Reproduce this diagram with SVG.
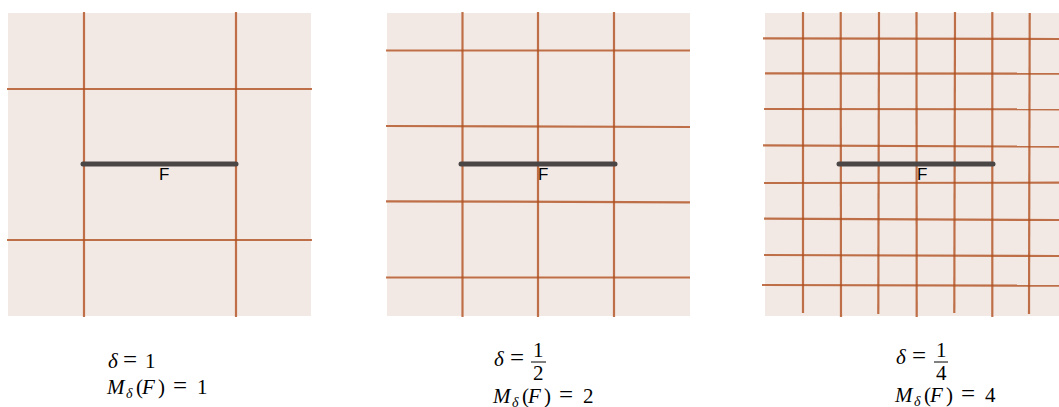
<svg xmlns="http://www.w3.org/2000/svg" width="1059" height="407" viewBox="0 0 1059 407">
<style>
.bg{fill:#f3e9e4}
.g{stroke:#b0501f;stroke-opacity:0.8;stroke-width:2.2;fill:none}
.seg{stroke:#4a4646;stroke-width:5;stroke-linecap:round}
.lbl{font-family:"Liberation Sans",Arial,sans-serif;font-size:17px;fill:#000}
.m{font-family:"Liberation Serif","Times New Roman",serif;font-size:21px;fill:#000}
.i{font-style:italic}
.s{font-style:italic;font-size:14px}
.e{font-size:25px}
.bar{stroke:#000;stroke-width:1}
</style>
<rect width="1059" height="407" fill="#fff"/>
<g id="panel1">
<rect class="bg" x="8" y="13" width="303" height="303"/>
<g class="g">
<line x1="84" y1="12" x2="84" y2="317"/>
<line x1="236" y1="12" x2="236" y2="317"/>
<line x1="7" y1="89" x2="312" y2="89"/>
<line x1="7" y1="240" x2="312" y2="240"/>
</g>
<line class="seg" x1="83" y1="164" x2="236" y2="164"/>
<text class="lbl" x="159" y="180">F</text>
</g>
<g id="panel2">
<rect class="bg" x="387" y="13" width="303" height="303"/>
<g class="g">
<line x1="462.5" y1="12" x2="462.5" y2="317"/>
<line x1="538" y1="12" x2="538" y2="317"/>
<line x1="614" y1="12" x2="614" y2="317"/>
<line x1="386" y1="50.5" x2="690" y2="50.5"/>
<line x1="386" y1="126" x2="690" y2="127"/>
<line x1="386" y1="201.3" x2="690" y2="202.3"/>
<line x1="386" y1="277.5" x2="690" y2="277.5"/>
</g>
<line class="seg" x1="461" y1="164" x2="615" y2="164"/>
<text class="lbl" x="538" y="180">F</text>
</g>
<g id="panel3">
<rect class="bg" x="765" y="13" width="294" height="303"/>
<g class="g">
<line x1="803" y1="12" x2="803" y2="313"/>
<line x1="840.7" y1="12" x2="841" y2="317"/>
<line x1="879" y1="12" x2="878.3" y2="314"/>
<line x1="916.5" y1="12" x2="916.7" y2="317"/>
<line x1="955" y1="12" x2="954.3" y2="313"/>
<line x1="992.3" y1="12" x2="992.3" y2="317"/>
<line x1="1029.7" y1="13" x2="1029" y2="314"/>
<line x1="763" y1="38.3" x2="1059" y2="39"/>
<line x1="765" y1="73.3" x2="1059" y2="73.7"/>
<line x1="764" y1="109" x2="1059" y2="109.3"/>
<line x1="763" y1="145.3" x2="1059" y2="146.7"/>
<line x1="764" y1="183" x2="1059" y2="182.7"/>
<line x1="764" y1="218.7" x2="1059" y2="220"/>
<line x1="764" y1="255" x2="1059" y2="256"/>
<line x1="762" y1="285" x2="1059" y2="285.7"/>
</g>
<line class="seg" x1="839" y1="164" x2="993" y2="164"/>
<text class="lbl" x="917" y="180">F</text>
</g>
<g id="label1">
<text class="m" y="368"><tspan class="i" x="108">δ</tspan><tspan class="e" x="123">=</tspan><tspan x="145">1</tspan></text>
<text class="m" y="394"><tspan class="i" x="107">M</tspan><tspan class="s" x="126" dy="4">δ</tspan><tspan x="136" dy="-4">(</tspan><tspan class="i" x="142">F</tspan><tspan x="158">)</tspan><tspan class="e" x="173">=</tspan><tspan x="197">1</tspan></text>
</g>
<g id="label2">
<text class="m" y="366"><tspan class="i" x="494">δ</tspan><tspan class="e" x="510">=</tspan></text>
<text class="m" x="533" y="357">1</text>
<line class="bar" x1="531" y1="362" x2="546" y2="362"/>
<text class="m" x="533" y="380">2</text>
<text class="m" y="403"><tspan class="i" x="493">M</tspan><tspan class="s" x="512" dy="4">δ</tspan><tspan x="522" dy="-4">(</tspan><tspan class="i" x="528">F</tspan><tspan x="544">)</tspan><tspan class="e" x="559">=</tspan><tspan x="583">2</tspan></text>
</g>
<g id="label3">
<text class="m" y="364"><tspan class="i" x="896">δ</tspan><tspan class="e" x="912">=</tspan></text>
<text class="m" x="936" y="357">1</text>
<line class="bar" x1="934" y1="362" x2="948" y2="362"/>
<text class="m" x="936" y="380">4</text>
<text class="m" y="402"><tspan class="i" x="895">M</tspan><tspan class="s" x="914" dy="4">δ</tspan><tspan x="924" dy="-4">(</tspan><tspan class="i" x="930">F</tspan><tspan x="946">)</tspan><tspan class="e" x="961">=</tspan><tspan x="985">4</tspan></text>
</g>
</svg>
